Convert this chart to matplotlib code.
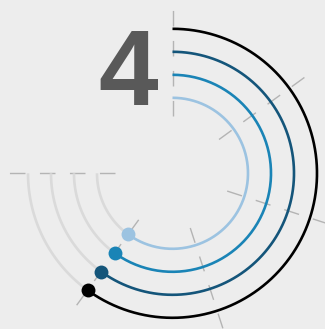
import numpy as np
import matplotlib.pyplot as plt

# one gauge: score 4 out of 5, four rings all showing the same score
score_label = '4'
scale_max = 5
scale_ticks = [0, 1, 2, 3, 4, 5]
ring_values = [4, 4, 4, 4]
ring_radii = [75.5, 98.5, 121.5, 144.5]
ring_colors = ['#9cc3e1', '#1a84b6', '#14557a', '#000000']

SWEEP = 270  # degrees used by the full scale


def to_theta(v):
    return np.deg2rad(v / scale_max * SWEEP)


def main():
    fig = plt.figure(figsize=(3.25, 3.29), dpi=100, facecolor='#ededed')

    # polar axes placed so that 1 radial unit == 1 pixel
    cx, cy, R = 172.5, 329 - 173.3, 170
    ax = fig.add_axes([(cx - R) / 325, (cy - R) / 329, 2 * R / 325, 2 * R / 329],
                      projection='polar')
    ax.set_theta_zero_location('N')
    ax.set_theta_direction(-1)
    ax.set_ylim(0, R)
    ax.axis('off')
    ax.patch.set_alpha(0)

    # dashed radial ticks
    for t in scale_ticks:
        th = to_theta(t)
        ax.plot([th, th], [57.5, 164.5], color='#b4b4b4', lw=1.0,
                linestyle=(0, (11.2, 10.4)), zorder=1)

    # grey track + coloured progress for every ring
    for v, r, c in zip(ring_values, ring_radii, ring_colors):
        th_end = to_theta(v)
        rest = np.linspace(th_end, to_theta(scale_max), 60)
        ax.plot(rest, np.full_like(rest, r), color='#dadada', lw=1.9,
                solid_capstyle='butt', zorder=2)
        done = np.linspace(0, th_end, 200)
        ax.plot(done, np.full_like(done, r), color=c, lw=1.9,
                solid_capstyle='butt', zorder=3)
        ax.plot([th_end], [r], 'o', color=c, ms=10, mew=0, zorder=4)

    fig.text(157.5 / 325, (329 - 105) / 329, score_label, ha='right',
             va='baseline', fontsize=77, fontweight='bold',
             family='Liberation Sans', color='#595959')

    fig.savefig('out.png', dpi=100, facecolor=fig.get_facecolor())


if __name__ == "__main__":
    main()
